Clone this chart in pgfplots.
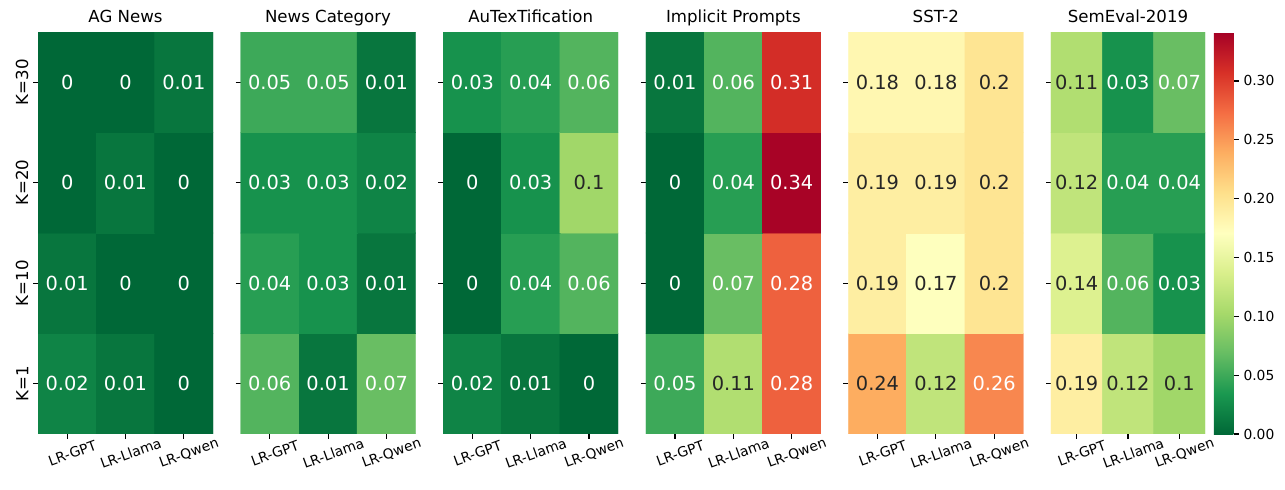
\documentclass[border=0pt]{standalone}
\usepackage{fontspec}
\setmainfont{DejaVu Sans}
\usepackage{pgfplots}
\pgfplotsset{compat=1.18}
\usepackage{pgfplotstable}

\definecolor{dk}{HTML}{262626}

% rows: y=0 is K=1 ... y=3 is K=30; columns x = GPT, Llama, Qwen
% w = 1 for white annotation text, 0 for dark text
\pgfplotstableread{
x y v w
0 0 0.02 1
1 0 0.01 1
2 0 0 1
0 1 0.01 1
1 1 0 1
2 1 0 1
0 2 0 1
1 2 0.01 1
2 2 0 1
0 3 0 1
1 3 0 1
2 3 0.01 1
}\agnews
\pgfplotstableread{
x y v w
0 0 0.06 1
1 0 0.01 1
2 0 0.07 1
0 1 0.04 1
1 1 0.03 1
2 1 0.01 1
0 2 0.03 1
1 2 0.03 1
2 2 0.02 1
0 3 0.05 1
1 3 0.05 1
2 3 0.01 1
}\newscat
\pgfplotstableread{
x y v w
0 0 0.02 1
1 0 0.01 1
2 0 0 1
0 1 0 1
1 1 0.04 1
2 1 0.06 1
0 2 0 1
1 2 0.03 1
2 2 0.1 0
0 3 0.03 1
1 3 0.04 1
2 3 0.06 1
}\autex
\pgfplotstableread{
x y v w
0 0 0.05 1
1 0 0.11 0
2 0 0.28 1
0 1 0 1
1 1 0.07 1
2 1 0.28 1
0 2 0 1
1 2 0.04 1
2 2 0.34 1
0 3 0.01 1
1 3 0.06 1
2 3 0.31 1
}\implicit
\pgfplotstableread{
x y v w
0 0 0.24 0
1 0 0.12 0
2 0 0.26 1
0 1 0.19 0
1 1 0.17 0
2 1 0.2 0
0 2 0.19 0
1 2 0.19 0
2 2 0.2 0
0 3 0.18 0
1 3 0.18 0
2 3 0.2 0
}\sst
\pgfplotstableread{
x y v w
0 0 0.19 0
1 0 0.12 0
2 0 0.1 0
0 1 0.14 0
1 1 0.06 1
2 1 0.03 1
0 2 0.12 0
1 2 0.04 1
2 2 0.04 1
0 3 0.11 0
1 3 0.03 1
2 3 0.07 1
}\semeval

\pgfplotsset{
  colormap={rdylgnr}{rgb255=(0,104,55) rgb255=(26,152,80) rgb255=(102,189,99)
    rgb255=(166,217,106) rgb255=(217,239,139) rgb255=(255,255,191)
    rgb255=(254,224,139) rgb255=(253,174,97) rgb255=(244,109,67)
    rgb255=(215,48,39) rgb255=(165,0,38)},
  hm/.style={
    scale only axis, width=126bp, height=289.44bp, anchor=south west,
    xmin=-0.5, xmax=2.5, ymin=-0.5, ymax=3.5,
    axis line style={draw=none},
    tick align=outside, xtick pos=bottom, ytick pos=left,
    major tick length=3.5bp, tick style={line width=0.8bp, black},
    xtick={0,1,2}, xticklabels={LR-GPT,LR-Llama,LR-Qwen},
    ytick={0,1,2,3}, yticklabels={},
    xticklabel style={rotate=20, anchor=center, yshift=-11bp,
      font=\fontsize{10}{12}\selectfont},
    title style={anchor=base, yshift=1bp, font=\fontsize{12}{14}\selectfont},
    point meta min=0, point meta max=0.3416,
    colormap name=rdylgnr,
  },
  cell/.style={matrix plot*, mesh/cols=3, point meta=explicit},
  lbl/.style={only marks, mark=none, point meta=explicit,
    visualization depends on={\thisrow{w} \as \wt},
    nodes near coords={\ifdim\wt pt>0.5pt\color{white}\else\color{dk}\fi
      \pgfmathprintnumber[fixed,precision=2,assume math mode=true]{\pgfplotspointmeta}},
    every node near coord/.append style={anchor=center,
      font=\fontsize{14}{16}\selectfont},
  },
}

\begin{document}
\begin{tikzpicture}
\path[use as bounding box] (0,0) rectangle (925.2bp,352.8bp);

\begin{axis}[hm, at={(27.36bp,40.32bp)}, title={AG News},
  yticklabels={K=1,K=10,K=20,K=30},
  yticklabel style={rotate=90, anchor=south, font=\fontsize{12}{14}\selectfont}]
\addplot[cell] table[meta=v] {\agnews};
\addplot[lbl] table[meta=v] {\agnews};
\end{axis}

\begin{axis}[hm, at={(173.2bp,40.32bp)}, title={News Category}]
\addplot[cell] table[meta=v] {\newscat};
\addplot[lbl] table[meta=v] {\newscat};
\end{axis}

\begin{axis}[hm, at={(319.1bp,40.32bp)}, title={AuTexTification}]
\addplot[cell] table[meta=v] {\autex};
\addplot[lbl] table[meta=v] {\autex};
\end{axis}

\begin{axis}[hm, at={(465.0bp,40.32bp)}, title={Implicit Prompts}]
\addplot[cell] table[meta=v] {\implicit};
\addplot[lbl] table[meta=v] {\implicit};
\end{axis}

\begin{axis}[hm, at={(610.8bp,40.32bp)}, title={SST-2}]
\addplot[cell] table[meta=v] {\sst};
\addplot[lbl] table[meta=v] {\sst};
\end{axis}

\begin{axis}[hm, at={(756.7bp,40.32bp)}, width=110.9bp, title={SemEval-2019},
  colorbar,
  colorbar style={at={(parent axis.north east)}, anchor=north west,
    xshift=-2.2bp, width=14.4bp, height=289.44bp, scale only axis,
    ytick={0,0.05,0.1,0.15,0.2,0.25,0.3},
    yticklabel style={/pgf/number format/fixed, /pgf/number format/fixed zerofill,
      /pgf/number format/precision=2, /pgf/number format/assume math mode=true,
      font=\fontsize{10}{12}\selectfont},
    tick align=outside, ytick pos=right, yticklabel pos=right,
    axis line style={draw=none},
    major tick length=3.5bp, tick style={line width=0.8bp, black}}]
\addplot[cell] table[meta=v] {\semeval};
\addplot[lbl] table[meta=v] {\semeval};
\end{axis}
\end{tikzpicture}
\end{document}
